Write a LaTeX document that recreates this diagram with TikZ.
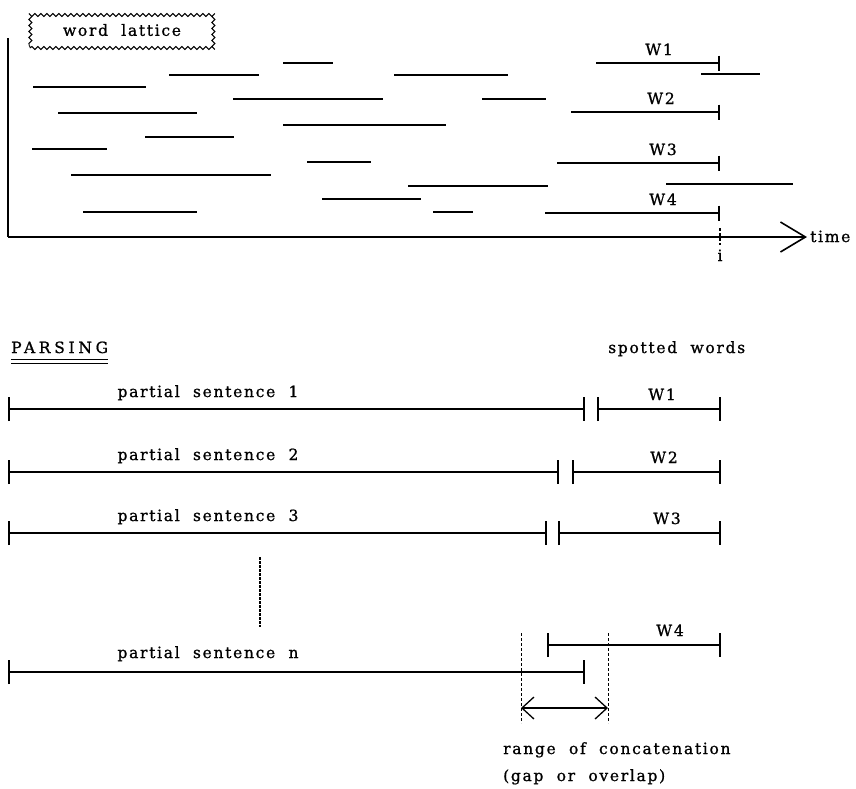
\documentclass[tikz,border=0pt]{standalone}
\usepackage{fontspec}
\setmainfont{DejaVu Serif}[LetterSpace=11, WordSpace=2, FakeBold=1]
\usetikzlibrary{arrows.meta,decorations.pathmorphing}

\tikzset{
  lbl/.style={inner sep=0pt, font=\fontsize{15.5}{18}\selectfont},
  lat/.style={line width=1.8pt},
  wline/.style={line width=1.6pt},
  axisline/.style={line width=1.6pt},
  seg/.style={line width=1.5pt},
  endbar/.style={-{Bar[width=15pt,line width=1.6pt]}},
  bothbar/.style={{Bar[width=24pt,line width=1.6pt]}-{Bar[width=24pt,line width=1.6pt]}},
  dashv/.style={line width=1pt, dash pattern=on 3pt off 2pt},
  rangearrow/.style={line width=1.3pt,
    {Straight Barb[length=12pt,width=22pt,line width=1.3pt]}-{Straight Barb[length=12pt,width=22pt,line width=1.3pt]}},
}

\begin{document}
\begin{tikzpicture}[x=1pt,y=-1pt]
\useasboundingbox (0,0) rectangle (856,788);

% ---------- word lattice panel ----------
\node[lbl, minimum width=184pt, minimum height=36pt,
      draw, line width=0.9pt,
      decorate, decoration={snake, segment length=6pt, amplitude=1.5pt}]
  (wl) at (122,30) {word lattice};

\coordinate (origin) at (8,237);
\coordinate (ytop) at (8,38);
\coordinate (xend) at (807,237);
\draw[axisline] (ytop) -- (origin);
\draw[axisline, -{Straight Barb[length=25pt,width=30pt,line width=1.6pt]}] (origin) -- (xend);
\node[lbl, anchor=base west] (time) at (810,242) {time};

% time instant i
\coordinate (itop) at (720,228);
\coordinate (ibot) at (720,245);
\draw[line width=1.2pt, dash pattern=on 3pt off 2pt] (itop) -- (ibot);
\node[lbl, anchor=base] (ilbl) at (720,261) {i};

% lattice word hypotheses
\foreach \a/\b/\y in {283/333/63, 169/259/75, 394/508/75, 33/146/87, 701/760/74,
                      233/383/99, 482/546/99, 58/197/113, 283/446/125, 145/234/137,
                      32/107/149, 307/371/162, 71/271/175, 408/548/186, 666/793/184,
                      322/421/199, 83/197/212, 433/473/212}
  \draw[lat] (\a,\y) -- (\b,\y);

% words ending at time i
\foreach \n/\a/\y/\c in {1/596/63/659, 2/571/112/661, 3/557/163/663, 4/545/213/663}{
  \coordinate (ws\n) at (\a,\y);
  \coordinate (we\n) at (720,\y);
  \draw[wline, endbar] (ws\n) -- (we\n);
  \node[lbl, anchor=base] (wlab\n) at (\c,\y-8) {W\n};
}

% ---------- parsing panel ----------
\node[lbl, anchor=base west] (parsing) at (11,353) {\addfontfeature{LetterSpace=24}PARSING};
\draw[line width=0.9pt] ([yshift=-6pt]parsing.base west) -- ([yshift=-6pt]parsing.base east);
\draw[line width=0.9pt] ([yshift=-10pt]parsing.base west) -- ([yshift=-10pt]parsing.base east);
\node[lbl, anchor=base west] (spotted) at (608,353) {spotted words};

% partial sentences and spotted words
\foreach \n/\pe/\ws/\y/\c in {1/585/597/409/662, 2/559/572/472/664, 3/547/558/533/667}{
  \coordinate (ps\n) at (8,\y);
  \coordinate (pe\n) at (\pe,\y);
  \coordinate (sa\n) at (\ws,\y);
  \coordinate (sb\n) at (721,\y);
  \draw[seg, bothbar] (ps\n) -- (pe\n);
  \draw[seg, bothbar] (sa\n) -- (sb\n);
  \node[lbl, anchor=base] (plab\n) at (208,\y-12) {partial sentence \n};
  \node[lbl, anchor=base] (slab\n) at (\c,\y-9) {W\n};
}

% ellipsis between the rows
\coordinate (dtop) at (260,557);
\coordinate (dbot) at (260,627);
\draw[line width=1.2pt, dash pattern=on 2.5pt off 1.5pt] (dtop) -- (dbot);

% last row
\coordinate (psn) at (8,672);
\coordinate (pen) at (585,672);
\coordinate (sa4) at (547,645);
\coordinate (sb4) at (721,645);
\draw[seg, bothbar] (psn) -- (pen);
\draw[seg, bothbar] (sa4) -- (sb4);
\node[lbl, anchor=base] (plabn) at (208,658) {partial sentence n};
\node[lbl, anchor=base] (slab4) at (670,636) {W4};

% range of concatenation
\coordinate (ra) at (521,633);
\coordinate (rb) at (608,633);
\coordinate (ra2) at (521,723);
\coordinate (rb2) at (608,723);
\draw[dashv] (ra) -- (ra2);
\draw[dashv] (rb) -- (rb2);
\coordinate (aa) at (521,708);
\coordinate (ab) at (608,708);
\draw[rangearrow] (aa) -- (ab);
\node[lbl, anchor=base west] (range1) at (503,754) {range of concatenation};
\node[lbl, anchor=base west] (range2) at (503,781) {(gap or overlap)};
\end{tikzpicture}
\end{document}
